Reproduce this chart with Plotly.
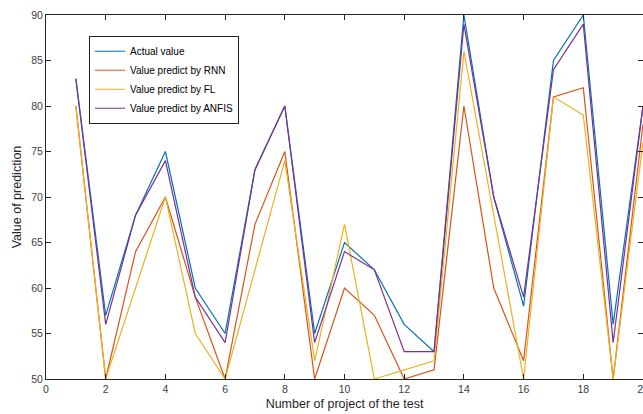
import plotly.graph_objects as go

projects = list(range(1, 21))
actual = [83, 57, 68, 75, 60, 55, 73, 80, 55, 65, 62, 56, 53, 90, 70, 58, 85, 90, 56, 80]
rnn    = [80, 50, 64, 70, 59, 50, 67, 75, 50, 60, 57, 50, 51, 80, 60, 52, 81, 82, 50, 78]
fl     = [80, 50, 60, 70, 55, 50, 62, 74, 52, 67, 50, 51, 52, 86, 68, 50, 81, 79, 50, 76]
anfis  = [83, 56, 68, 74, 59, 54, 73, 80, 54, 64, 62, 53, 53, 89, 70, 59, 84, 89, 54, 80]

series = [
    ("Actual value", actual, "#0072BD"),
    ("Value predict by RNN", rnn, "#D95319"),
    ("Value predict by FL", fl, "#EDB120"),
    ("Value predict by ANFIS", anfis, "#7E2F8E"),
]

fig = go.Figure()
for name, vals, col in series:
    fig.add_trace(go.Scatter(x=projects, y=vals, mode="lines", name=name,
                             line=dict(color=col, width=1.2), cliponaxis=True))

axis_common = dict(
    showgrid=False, zeroline=False, showline=True, linecolor="#262626", linewidth=1,
    mirror="ticks", ticks="inside", ticklen=5, tickcolor="#262626", automargin=False,
    tickfont=dict(family="Liberation Sans, Arial", size=10.5, color="#404040"),
)

fig.update_layout(
    width=643, height=414,
    margin=dict(l=46, r=0, t=15, b=35),
    paper_bgcolor="white", plot_bgcolor="white",
    font=dict(family="Liberation Sans, Arial", size=11, color="#262626"),
    xaxis=dict(range=[0, 20], dtick=2, tick0=0, ticklabeloverflow="allow",
               title=dict(text="Number of project of the test", standoff=5,
                          font=dict(size=12.5, color="#262626")),
               **axis_common),
    yaxis=dict(range=[50, 90], dtick=5, tick0=50,
               title=dict(text="Value of prediction", standoff=6,
                          font=dict(size=12.5, color="#262626")),
               **axis_common),
    legend=dict(x=0.072, y=0.943, xanchor="left", yanchor="top",
                bgcolor="white", bordercolor="#262626", borderwidth=1,
                font=dict(size=10, color="#000000"),
                tracegroupgap=0),
    showlegend=True,
)

fig.write_html("out.html", config={"displayModeBar": False},
               post_script="document.body.style.margin='0';document.body.style.overflow='hidden';")
